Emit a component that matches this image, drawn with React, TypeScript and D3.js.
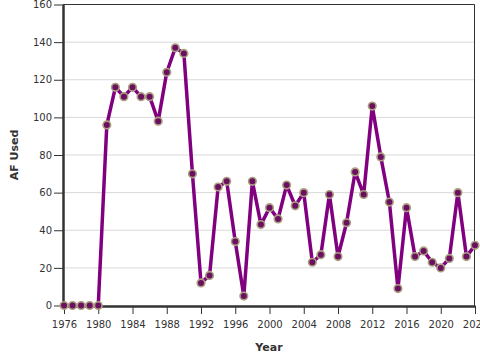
import React, { useEffect, useRef } from "react";
import * as d3 from "d3";

const years = [
  1976, 1977, 1978, 1979, 1980, 1981, 1982, 1983, 1984, 1985, 1986, 1987,
  1988, 1989, 1990, 1991, 1992, 1993, 1994, 1995, 1996, 1997, 1998, 1999,
  2000, 2001, 2002, 2003, 2004, 2005, 2006, 2007, 2008, 2009, 2010, 2011,
  2012, 2013, 2014, 2015, 2016, 2017, 2018, 2019, 2020, 2021, 2022, 2023,
  2024,
];
const afUsed = [
  0, 0, 0, 0, 0, 96, 116, 111, 116, 111, 111, 98,
  124, 137, 134, 70, 12, 16, 63, 66, 34, 5, 66, 43,
  52, 46, 64, 53, 60, 23, 27, 59, 26, 44, 71, 59,
  106, 79, 55, 9, 52, 26, 29, 23, 20, 25, 60, 26,
  32,
];
const xTicks = [1976, 1980, 1984, 1988, 1992, 1996, 2000, 2004, 2008, 2012, 2016, 2020, 2024];
const yTicks = [0, 20, 40, 60, 80, 100, 120, 140, 160];

const App = () => {
  const ref = useRef<SVGSVGElement>(null);

  useEffect(() => {
    const svg = d3.select(ref.current);
    svg.selectAll("*").remove();

    const margin = { top: 4, right: 5, bottom: 54, left: 63 },
      width = 480 - margin.left - margin.right,
      height = 360 - margin.top - margin.bottom;

    const g = svg
      .append("g")
      .attr("transform", "translate(" + margin.left + "," + margin.top + ")");

    const x = d3.scaleLinear().domain([1976, 2024]).range([1, width]);
    const y = d3.scaleLinear().domain([0, 160]).range([height - 0.5, 0.5]);

    // grid
    g.selectAll(".grid")
      .data(yTicks.slice(1, -1))
      .enter()
      .append("line")
      .attr("x1", 0)
      .attr("x2", width)
      .attr("y1", (d) => y(d))
      .attr("y2", (d) => y(d))
      .attr("stroke", "#d9d9d9")
      .attr("stroke-width", 1);

    // frame top/right
    g.append("path")
      .attr("d", `M0,0.5H${width - 0.5}V${height}`)
      .attr("fill", "none")
      .attr("stroke", "#333")
      .attr("stroke-width", 1);

    const font = "DejaVu Sans, sans-serif";

    const xAxis = g
      .append("g")
      .attr("transform", "translate(0," + height + ")")
      .call(
        d3.axisBottom(x).tickValues(xTicks).tickFormat(d3.format("d"))
          .tickSize(8).tickPadding(7).tickSizeOuter(0)
      );
    xAxis.select(".domain").attr("stroke", "#333").attr("stroke-width", 2.5);
    xAxis.selectAll(".tick line").attr("stroke", "#333").attr("stroke-width", 1);
    xAxis.selectAll("text").attr("fill", "#333").style("font-family", font).style("font-size", "10px");

    const yAxis = g
      .append("g")
      .call(d3.axisLeft(y).tickValues(yTicks).tickSize(9).tickPadding(2).tickSizeOuter(0));
    yAxis.select(".domain").attr("stroke", "#333").attr("stroke-width", 2.5);
    yAxis.selectAll(".tick line").attr("stroke", "#333").attr("stroke-width", 1);
    yAxis.selectAll("text").attr("fill", "#333").style("font-family", font).style("font-size", "10px");

    const data = years.map((yr, i) => ({ year: yr, value: afUsed[i] }));

    g.append("path")
      .datum(data)
      .attr("fill", "none")
      .attr("stroke", "#800080")
      .attr("stroke-width", 3.5)
      .attr("stroke-linejoin", "round")
      .attr(
        "d",
        d3
          .line<{ year: number; value: number }>()
          .x((d) => x(d.year))
          .y((d) => y(d.value))
      );

    g.selectAll(".pt")
      .data(data)
      .enter()
      .append("circle")
      .attr("cx", (d) => x(d.year))
      .attr("cy", (d) => y(d.value))
      .attr("r", 3.8)
      .attr("fill", "#6b1060")
      .attr("stroke", "#ab9f80")
      .attr("stroke-width", 1.6);

    svg
      .append("text")
      .attr("x", margin.left + width / 2)
      .attr("y", 351)
      .attr("text-anchor", "middle")
      .style("font-family", font)
      .style("font-size", "11px")
      .style("font-weight", "bold")
      .attr("fill", "#333")
      .text("Year");

    svg
      .append("text")
      .attr("transform", "translate(18," + (margin.top + height / 2) + ") rotate(-90)")
      .attr("text-anchor", "middle")
      .style("font-family", font)
      .style("font-size", "11px")
      .style("font-weight", "bold")
      .attr("fill", "#333")
      .text("AF Used");
  }, []);

  return (
    <svg
      ref={ref}
      width={480}
      height={360}
      style={{ position: "absolute", left: 0, top: 0 }}
    />
  );
};

export default App;
